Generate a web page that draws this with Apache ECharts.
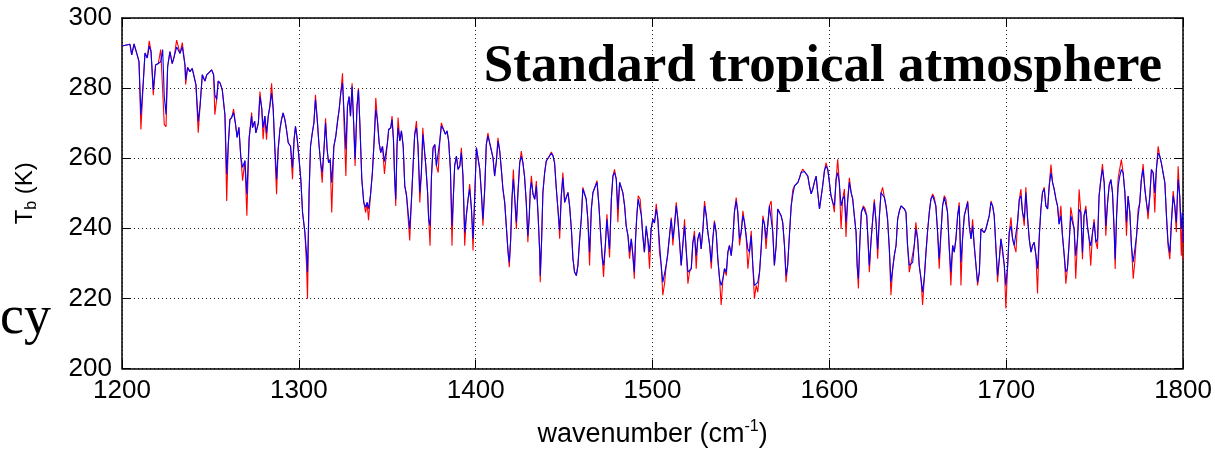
<!DOCTYPE html>
<html>
<head>
<meta charset="utf-8">
<script src="https://cdn.jsdelivr.net/npm/echarts@6/dist/echarts.min.js"></script>
<style>
  html, body { margin: 0; padding: 0; background: #fff; }
  #main { width: 1215px; height: 453px; }
</style>
</head>
<body>
<div id="main"></div>
<script>
// wavenumber (cm-1) of each read point
var wavenumber = [
  1200.0,1204.5,1205.5,1206.8,1208.3,1209.6,1210.7,1212.0,1213.0,1214.3,
  1215.4,1216.4,1217.7,1219.0,1220.5,1221.9,1223.0,1223.9,1224.9,1225.8,
  1227.1,1228.4,1229.5,1230.9,1232.8,1234.1,1235.6,1236.0,1237.1,1238.4,
  1239.7,1240.8,1241.8,1243.1,1244.2,1245.4,1246.9,1247.9,1249.2,1250.7,
  1251.8,1252.5,1253.5,1254.4,1255.5,1256.7,1258.2,1259.2,1260.1,1261.0,
  1262.0,1263.1,1264.2,1265.1,1266.1,1267.2,1268.2,1269.5,1270.6,1271.9,
  1273.3,1273.8,1275.0,1275.7,1277.1,1278.0,1279.0,1279.8,1280.8,1281.7,
  1282.7,1283.6,1284.6,1285.5,1286.4,1287.4,1288.3,1289.3,1290.2,1291.1,
  1292.1,1293.0,1294.0,1295.3,1296.4,1297.3,1298.1,1299.1,1300.0,1301.1,
  1302.1,1303.4,1304.3,1304.9,1305.8,1306.6,1307.6,1308.5,1309.4,1310.4,
  1311.3,1312.3,1313.2,1314.2,1315.1,1316.0,1316.8,1317.7,1318.6,1319.8,
  1320.9,1322.0,1322.8,1323.7,1324.7,1325.6,1326.6,1327.5,1328.4,1329.2,
  1330.1,1331.0,1331.8,1332.9,1333.7,1334.5,1335.6,1336.7,1337.8,1338.6,
  1339.4,1340.5,1341.6,1342.6,1343.5,1344.4,1345.4,1346.3,1347.3,1348.4,
  1350.1,1350.8,1352.0,1352.7,1353.5,1354.2,1354.8,1355.5,1356.1,1357.1,
  1358.0,1359.0,1359.9,1360.9,1361.8,1362.7,1363.7,1364.6,1365.5,1366.5,
  1367.4,1368.4,1369.3,1370.1,1370.9,1371.8,1372.8,1373.4,1374.2,1375.0,
  1375.9,1376.9,1377.8,1378.8,1379.7,1380.6,1381.8,1382.9,1383.8,1384.7,
  1385.7,1386.6,1387.4,1388.1,1389.1,1390.0,1391.0,1391.9,1392.8,1393.8,
  1394.7,1395.7,1396.6,1397.6,1398.5,1399.4,1400.4,1401.3,1402.3,1403.2,
  1404.1,1405.1,1406.0,1406.9,1407.9,1408.9,1409.8,1410.7,1411.7,1412.6,
  1413.6,1414.5,1415.4,1416.4,1417.3,1418.3,1419.0,1419.8,1420.5,1421.3,
  1422.0,1423.0,1423.9,1424.9,1425.8,1426.7,1427.6,1428.6,1429.5,1430.3,
  1430.9,1431.5,1432.4,1433.4,1434.3,1435.3,1436.2,1436.5,1437.3,1438.0,
  1439.0,1439.9,1441.2,1442.8,1443.7,1444.6,1445.6,1446.5,1447.5,1448.4,
  1449.3,1450.3,1451.2,1452.2,1453.1,1454.1,1455.0,1455.9,1456.9,1457.8,
  1458.8,1459.7,1460.6,1461.6,1462.5,1463.4,1464.4,1465.4,1466.3,1467.4,
  1468.6,1469.7,1470.6,1471.6,1472.3,1473.3,1474.2,1475.1,1475.7,1476.7,
  1477.6,1478.5,1479.5,1480.4,1481.4,1482.3,1483.2,1484.2,1485.1,1486.1,
  1487.0,1488.0,1488.9,1489.7,1490.4,1491.1,1491.9,1493.0,1493.7,1494.5,
  1495.4,1496.4,1497.3,1498.3,1499.2,1500.2,1501.1,1502.1,1503.0,1503.9,
  1504.9,1505.8,1506.8,1507.7,1508.6,1509.6,1510.6,1511.5,1512.4,1513.4,
  1514.3,1515.3,1516.2,1517.1,1518.1,1519.0,1520.0,1520.9,1521.9,1522.8,
  1523.7,1524.7,1525.6,1526.6,1527.5,1528.5,1529.4,1530.4,1531.3,1532.3,
  1533.2,1534.1,1535.0,1536.0,1536.9,1537.9,1538.8,1539.8,1540.7,1541.7,
  1542.6,1543.5,1544.5,1545.4,1546.3,1547.3,1548.2,1549.2,1550.1,1551.1,
  1552.0,1552.9,1553.9,1554.8,1555.8,1556.7,1557.6,1558.6,1559.5,1560.5,
  1561.4,1562.4,1563.3,1564.2,1565.1,1566.1,1567.1,1568.0,1568.9,1569.9,
  1570.8,1571.7,1572.7,1573.6,1574.6,1575.5,1576.4,1577.4,1578.4,1579.3,
  1580.3,1581.2,1582.2,1583.1,1584.0,1584.9,1585.9,1586.8,1587.8,1588.7,
  1589.7,1590.6,1591.5,1592.5,1593.4,1594.4,1595.3,1596.2,1597.2,1598.1,
  1599.1,1600.0,1600.9,1601.9,1602.8,1603.8,1604.7,1605.6,1606.6,1607.5,
  1608.5,1609.4,1610.4,1611.3,1612.3,1613.2,1614.1,1615.1,1615.7,1616.4,
  1617.3,1618.1,1619.2,1620.3,1621.1,1621.8,1622.6,1623.5,1624.5,1625.4,
  1626.4,1627.3,1628.3,1629.2,1630.1,1631.1,1632.0,1632.9,1633.9,1634.8,
  1635.8,1636.7,1637.7,1638.6,1639.6,1640.5,1641.4,1642.4,1643.3,1644.2,
  1645.2,1646.1,1647.1,1648.0,1648.9,1649.9,1650.8,1651.8,1652.7,1653.7,
  1654.6,1655.5,1656.5,1657.4,1658.4,1659.3,1660.2,1661.2,1662.1,1663.1,
  1664.0,1665.0,1665.9,1666.8,1667.8,1668.7,1669.7,1670.6,1671.6,1672.5,
  1673.4,1674.4,1675.3,1676.3,1677.2,1678.2,1679.1,1680.1,1681.0,1681.9,
  1682.9,1683.8,1684.8,1685.7,1686.7,1687.6,1688.5,1689.5,1690.4,1691.4,
  1692.3,1693.2,1694.2,1695.1,1696.1,1697.0,1697.9,1698.9,1699.8,1700.8,
  1701.7,1702.7,1703.6,1704.5,1705.5,1706.4,1707.4,1708.3,1709.2,1710.2,
  1711.1,1712.1,1713.0,1714.0,1714.9,1715.8,1716.8,1717.7,1718.7,1719.6,
  1720.5,1721.5,1722.4,1723.4,1724.3,1725.3,1726.2,1727.1,1728.1,1729.0,
  1729.9,1730.9,1731.8,1732.8,1733.7,1734.6,1735.6,1736.5,1737.4,1738.4,
  1739.3,1740.3,1741.2,1742.2,1743.1,1744.0,1745.0,1745.9,1746.9,1747.8,
  1748.8,1749.7,1750.7,1751.6,1752.5,1753.5,1754.4,1755.4,1756.3,1757.3,
  1758.2,1759.2,1760.1,1761.0,1761.6,1762.4,1763.3,1764.2,1765.1,1766.1,
  1767.1,1768.0,1768.9,1769.9,1770.8,1771.8,1772.7,1773.7,1774.6,1775.5,
  1776.4,1777.4,1778.4,1779.3,1780.2,1781.2,1782.1,1783.1,1784.0,1784.9,
  1785.9,1786.8,1787.7,1788.7,1789.7,1790.6,1791.5,1792.5,1793.4,1794.4,
  1795.3,1796.2,1797.2,1798.1,1799.0,1799.6,1800.0
];

// blue curve, Tb (K)
var tbBlue = [
  292.0,292.5,289.5,292.6,290.0,287.6,272.4,281.4,290.0,288.6,
  292.0,290.5,279.5,286.6,287.0,287.5,291.0,277.6,272.5,286.1,
  290.4,287.0,289.0,291.7,289.9,291.8,286.6,282.4,285.9,284.7,
  285.6,285.6,281.0,270.5,275.3,283.8,282.0,283.8,284.4,285.2,
  283.8,278.1,276.7,282.0,281.4,279.5,272.4,255.4,263.9,271.0,
  271.6,273.0,269.7,265.9,268.8,260.2,257.4,259.3,249.7,265.8,
  272.0,268.7,270.6,267.2,270.0,277.6,274.3,268.7,272.0,267.2,
  272.0,274.8,278.6,274.0,263.4,254.0,262.5,268.2,271.0,272.9,
  271.0,268.2,264.4,263.4,257.3,265.3,269.1,265.3,260.6,254.0,
  244.5,238.9,233.2,227.5,250.2,263.4,267.2,270.0,276.7,271.0,
  264.4,258.7,255.9,262.5,270.0,262.5,258.7,259.6,253.0,263.4,
  266.3,271.0,273.9,278.6,281.4,272.9,262.5,274.8,277.6,272.0,
  280.5,270.0,259.7,274.8,279.5,270.0,254.0,247.4,246.0,247.4,
  245.6,249.4,255.9,265.3,273.9,271.0,264.4,261.6,263.4,259.0,
  264.4,268.2,268.7,271.0,265.3,254.0,248.3,263.4,268.7,264.9,
  267.8,263.4,252.1,249.3,249.3,239.8,248.3,257.8,266.8,268.7,
  263.4,250.2,255.9,266.8,263.0,257.8,250.2,242.6,240.7,254.9,
  263.0,263.9,257.8,257.8,264.9,269.2,268.2,266.8,267.8,264.9,
  256.8,240.7,249.3,257.8,260.6,256.8,257.8,261.6,254.9,238.8,
  243.6,248.3,251.2,245.5,237.0,248.3,263.0,263.0,256.8,250.2,
  242.6,251.2,263.9,266.3,264.4,263.9,260.1,254.9,259.2,264.9,
  262.0,256.8,251.2,247.4,240.7,233.2,230.3,237.0,248.3,254.0,
  249.3,241.7,250.2,258.7,260.5,258.7,254.9,247.4,237.9,243.6,
  251.2,253.1,249.8,248.3,252.1,243.6,233.2,226.5,237.0,250.2,
  255.9,259.2,260.2,261.4,260.7,258.7,251.2,245.5,239.4,249.3,
  254.4,247.4,248.8,250.2,246.4,239.8,231.3,227.5,226.5,229.4,
  237.0,242.6,251.2,251.7,248.3,242.6,233.2,245.5,250.2,251.7,
  253.1,246.4,238.8,231.3,229.4,235.1,242.6,237.0,234.1,248.3,
  254.9,255.9,254.0,245.5,253.1,253.1,250.2,246.4,240.7,237.9,
  233.2,237.0,232.2,227.5,237.0,243.6,248.3,248.3,243.6,237.9,
  233.2,240.7,237.0,233.2,239.8,242.6,241.5,245.5,242.6,236.0,
  229.4,224.6,224.2,229.4,232.7,237.9,242.6,237.0,240.7,246.4,
  242.6,236.0,229.4,235.1,240.7,234.1,227.5,227.5,228.5,236.0,
  237.9,232.2,237.0,238.8,234.1,239.8,246.4,243.6,238.8,235.1,
  230.3,237.0,241.7,238.8,231.3,225.6,223.7,225.6,228.5,227.5,
  233.2,235.1,232.2,237.0,244.6,247.8,244.6,237.0,238.8,243.6,
  241.7,237.9,234.1,233.2,237.9,229.4,223.7,223.7,224.6,227.5,
  234.1,242.6,241.2,237.0,240.7,246.4,246.9,238.8,229.4,235.1,
  245.5,245.5,243.6,241.7,235.1,226.5,229.4,238.0,246.4,249.5,
  252.1,252.6,253.1,254.4,255.9,256.4,256.2,256.4,254.9,252.1,
  249.8,251.2,253.1,254.9,250.2,245.5,248.8,252.1,256.4,257.8,
  256.8,253.1,249.3,247.4,246.4,254.0,255.9,253.1,246.4,248.3,
  249.3,241.7,248.3,253.1,250.2,248.3,243.6,238.8,229.4,225.6,
  237.0,244.6,246.0,245.5,243.6,237.0,229.4,236.0,242.6,247.4,
  241.7,234.1,243.6,250.2,250.7,248.8,246.4,242.6,234.1,224.6,
  228.5,232.2,235.1,242.6,245.0,246.4,246.9,245.5,244.6,235.1,
  229.4,229.9,230.3,235.1,239.8,237.0,229.4,225.6,221.8,226.0,
  233.0,239.0,244.6,248.3,249.3,248.8,246.4,238.8,231.3,238.8,
  246.4,248.8,248.3,244.6,234.1,227.5,235.1,233.2,237.0,243.6,
  246.4,230.3,237.0,243.6,245.5,247.4,240.7,237.0,240.7,235.1,
  229.4,224.6,227.5,239.8,239.8,238.8,239.8,239.8,243.6,247.4,
  246.4,243.6,234.1,226.5,231.3,237.0,234.1,229.4,223.7,229.4,
  238.8,240.7,237.0,235.1,235.1,241.7,248.3,249.3,244.6,242.6,
  250.2,242.6,237.0,233.2,235.1,236.0,232.2,228.5,237.9,245.5,
  250.2,251.2,246.4,245.5,252.1,255.9,253.1,251.2,248.3,246.4,
  241.2,243.6,237.9,232.2,227.5,228.5,236.0,243.6,243.1,239.8,
  232.2,236.9,245.4,244.5,233.1,243.6,245.4,240.7,236.9,235.0,
  238.8,241.7,236.0,236.9,249.2,253.9,256.8,253.0,240.7,247.3,
  252.0,253.9,250.1,239.8,231.2,243.6,252.0,254.9,256.8,255.8,
  250.1,241.7,249.2,244.5,235.0,230.3,230.3,237.9,243.6,247.3,
  253.9,256.8,251.1,247.3,244.5,249.2,256.8,255.8,250.1,256.8,
  261.5,260.6,258.7,255.8,253.0,243.6,236.0,233.1,241.7,249.2,
  246.4,241.7,253.9,249.2,239.8,244.5,236.0
];

// red curve, Tb (K)
var tbRed = [
  292.0,292.5,289.5,292.6,290.0,287.6,268.2,281.4,290.0,288.6,
  293.5,290.5,278.0,286.6,287.0,291.0,291.0,269.6,269.0,286.1,
  290.4,287.0,289.0,293.7,289.9,293.0,286.6,281.0,285.9,284.7,
  285.6,285.6,281.0,267.3,275.3,283.8,282.0,283.8,284.4,285.2,
  283.8,272.4,276.7,282.0,281.4,279.5,272.4,247.8,263.9,271.0,
  271.6,274.0,269.7,265.9,268.8,260.2,253.6,259.3,243.6,265.8,
  273.0,268.7,270.6,267.2,270.0,279.0,274.3,265.4,272.0,265.3,
  272.0,274.8,281.4,274.0,262.5,249.7,262.5,268.2,271.0,272.9,
  271.0,268.2,264.4,263.4,254.0,265.3,269.1,265.3,260.6,254.0,
  244.5,238.9,230.0,219.9,250.2,263.4,267.2,270.0,278.1,271.0,
  264.4,258.7,253.0,262.5,271.4,262.5,258.7,259.6,244.5,263.4,
  266.3,271.0,273.9,278.6,284.2,269.1,254.9,274.8,277.6,272.0,
  281.4,270.0,257.8,274.8,280.0,270.0,254.0,247.4,244.5,247.4,
  242.3,249.4,255.9,265.3,277.2,271.0,264.4,261.6,263.4,255.5,
  264.4,268.2,268.7,272.0,265.3,254.0,246.4,263.4,271.6,264.9,
  267.8,263.4,252.1,249.3,249.3,236.5,248.3,257.8,266.8,270.6,
  263.4,247.4,255.9,268.7,263.0,257.8,250.2,242.6,235.0,254.9,
  263.0,263.9,257.8,255.9,264.9,270.1,268.2,266.8,267.8,264.9,
  256.8,235.0,249.3,257.8,260.6,256.8,257.8,263.0,254.9,235.0,
  243.6,248.3,252.6,245.5,233.7,248.3,263.0,263.0,256.8,250.2,
  240.7,251.2,263.9,267.2,264.4,263.9,260.1,254.9,259.2,265.8,
  262.0,256.8,251.2,247.4,240.7,233.2,228.9,237.0,248.3,256.8,
  249.3,239.8,250.2,258.7,262.0,258.7,254.9,247.4,236.0,243.6,
  251.2,255.0,249.8,248.3,253.5,243.6,233.2,224.6,237.0,250.2,
  255.9,259.2,260.2,261.8,260.7,258.7,251.2,245.5,237.0,249.3,
  255.9,247.4,248.8,250.2,246.4,239.8,231.3,227.5,226.5,229.4,
  237.0,242.6,251.7,251.7,248.3,242.6,229.4,245.5,250.2,251.7,
  253.6,246.4,238.8,231.3,226.1,235.1,244.0,237.0,231.7,248.3,
  254.9,256.8,254.0,241.7,253.1,253.1,250.2,246.4,240.7,237.9,
  231.3,237.0,232.2,225.6,237.0,243.6,249.3,248.3,243.6,237.9,
  233.2,239.8,237.0,228.5,239.8,242.6,241.5,247.0,242.6,233.2,
  229.4,220.9,224.2,229.4,232.7,237.9,243.1,235.1,240.7,247.4,
  242.6,236.0,229.4,235.1,242.6,234.1,224.2,227.5,228.5,236.0,
  239.3,228.5,237.0,238.8,234.1,239.8,247.8,243.6,238.8,235.1,
  228.5,237.0,242.2,238.8,231.3,225.6,218.1,225.6,228.5,226.5,
  233.2,235.1,232.2,237.0,244.6,248.8,244.6,235.1,238.8,245.0,
  241.7,237.9,228.5,233.2,239.3,229.4,219.9,223.7,221.8,227.5,
  234.1,243.6,241.2,234.1,240.7,246.4,247.8,238.8,229.4,235.1,
  245.5,245.5,243.6,241.7,235.1,224.6,229.4,238.0,246.4,251.0,
  252.1,252.6,253.1,254.4,255.9,256.9,256.2,256.4,254.9,252.1,
  249.8,251.2,253.1,254.9,250.2,245.5,248.8,252.1,256.4,258.7,
  256.8,253.1,249.3,247.4,244.6,254.0,259.7,253.1,239.8,248.3,
  251.2,237.5,248.3,254.4,250.2,248.3,243.6,238.8,229.4,222.8,
  237.0,244.6,246.4,245.5,243.6,237.0,227.5,236.0,242.6,248.3,
  241.7,231.3,243.6,250.2,251.7,248.8,246.4,242.6,234.1,220.9,
  228.5,232.2,235.1,242.6,245.0,246.4,246.9,245.5,244.6,235.1,
  227.5,229.9,230.3,235.1,241.7,237.0,229.4,225.6,218.1,226.0,
  233.0,239.0,244.6,248.3,249.8,248.8,246.4,238.8,228.5,238.8,
  246.4,249.3,248.3,244.6,234.1,223.7,235.1,233.2,237.5,243.6,
  247.4,223.7,237.0,243.6,245.5,247.8,240.7,237.0,242.6,235.1,
  229.4,223.7,227.5,239.8,239.8,238.8,239.8,239.8,243.6,247.8,
  246.4,243.6,234.1,224.6,231.3,237.0,233.2,229.4,217.1,229.4,
  238.8,243.1,237.0,235.1,233.2,241.7,248.3,251.2,244.6,240.7,
  251.7,242.6,237.0,233.2,235.1,236.0,232.2,221.4,237.9,245.5,
  250.2,251.7,246.4,245.5,252.1,258.2,253.1,251.2,248.3,246.4,
  241.2,246.4,237.9,232.2,224.2,228.5,236.0,246.0,243.1,239.8,
  225.6,236.9,251.1,244.5,231.2,243.6,246.4,240.7,236.9,229.3,
  238.8,242.6,236.0,234.1,249.2,253.9,258.3,253.0,237.9,247.3,
  252.5,253.9,250.1,239.8,228.4,243.6,254.4,254.9,259.6,255.8,
  250.1,237.9,249.2,244.5,235.0,225.6,230.3,237.9,245.5,247.3,
  253.9,258.3,251.1,247.3,242.6,249.2,256.8,255.8,244.5,256.8,
  263.4,260.6,258.7,255.8,253.0,243.6,235.0,231.2,241.7,250.6,
  246.4,238.9,257.7,249.2,232.2,244.5,231.0
];

var yTicks = [200, 220, 240, 260, 280, 300];

var chart = echarts.init(document.getElementById('main'));

var redData = wavenumber.map(function (w, i) { return [w, tbRed[i]]; });
var blueData = wavenumber.map(function (w, i) { return [w, tbBlue[i]]; });

var tickFont = { fontSize: 26, color: '#000', fontFamily: 'Liberation Sans' };

var option = {
  backgroundColor: '#fff',
  animation: false,
  grid: { left: 122, right: 30, top: 18, bottom: 83 },
  xAxis: [
    {
      type: 'value', min: 1200, max: 1800, interval: 100,
      name: '{a|wavenumber (cm}{s|-1}{a|)}',
      nameLocation: 'middle', nameGap: 50,
      nameTextStyle: {
        rich: {
          a: { fontSize: 27, fontFamily: 'Liberation Sans', color: '#000', lineHeight: 32 },
          s: { fontSize: 16, fontFamily: 'Liberation Sans', color: '#000', verticalAlign: 'top', lineHeight: 32 }
        }
      },
      axisLine: { show: true, lineStyle: { color: '#000', width: 1.5 } },
      axisTick: { show: true, inside: true, length: 9, lineStyle: { color: '#000' } },
      axisLabel: Object.assign({ margin: 9, formatter: function (v) { return String(v); } }, tickFont),
      splitLine: { show: true, lineStyle: { color: '#222', type: [1, 3], width: 1 } }
    },
    {
      type: 'value', min: 1200, max: 1800, interval: 100, position: 'top',
      axisLine: { show: true, lineStyle: { color: '#000', width: 1.5 } },
      axisTick: { show: true, inside: true, length: 9, lineStyle: { color: '#000' } },
      axisLabel: { show: false },
      splitLine: { show: false }
    }
  ],
  yAxis: [
    {
      type: 'value', min: yTicks[0], max: yTicks[yTicks.length - 1], interval: 20,
      name: '{a|T}{b|b}{a| (K)}',
      nameLocation: 'middle', nameGap: 82, nameRotate: 90,
      nameTextStyle: {
        rich: {
          a: { fontSize: 24, fontFamily: 'Liberation Sans', color: '#000', lineHeight: 30 },
          b: { fontSize: 16, fontFamily: 'Liberation Sans', color: '#000', verticalAlign: 'bottom', lineHeight: 30 }
        }
      },
      axisLine: { show: true, lineStyle: { color: '#000', width: 1.5 } },
      axisTick: { show: true, inside: true, length: 9, lineStyle: { color: '#000' } },
      axisLabel: Object.assign({ margin: 10 }, tickFont),
      splitLine: { show: true, lineStyle: { color: '#222', type: [1, 3], width: 1 } }
    },
    {
      type: 'value', min: 200, max: 300, interval: 20, position: 'right',
      axisLine: { show: true, lineStyle: { color: '#000', width: 1.5 } },
      axisTick: { show: true, inside: true, length: 9, lineStyle: { color: '#000' } },
      axisLabel: { show: false },
      splitLine: { show: false }
    }
  ],
  series: [
    {
      type: 'line', data: redData, showSymbol: false, silent: true,
      lineStyle: { color: '#ff0000', width: 1.1 }, itemStyle: { color: '#ff0000' }
    },
    {
      type: 'line', data: blueData, showSymbol: false, silent: true,
      lineStyle: { color: '#0000ff', width: 1.1 }, itemStyle: { color: '#0000ff' }
    }
  ],
  graphic: [
    {
      type: 'text', right: 1215 - 1162, top: 41, z: 100,
      style: {
        text: 'Standard tropical atmosphere',
        font: 'bold 53px "Liberation Serif"',
        fill: '#000'
      }
    },
    {
      type: 'text', left: 0, top: 292, z: 100,
      style: {
        text: 'cy',
        font: '54px "Liberation Serif"',
        fill: '#000'
      }
    }
  ]
};

chart.setOption(option);
</script>
</body>
</html>
